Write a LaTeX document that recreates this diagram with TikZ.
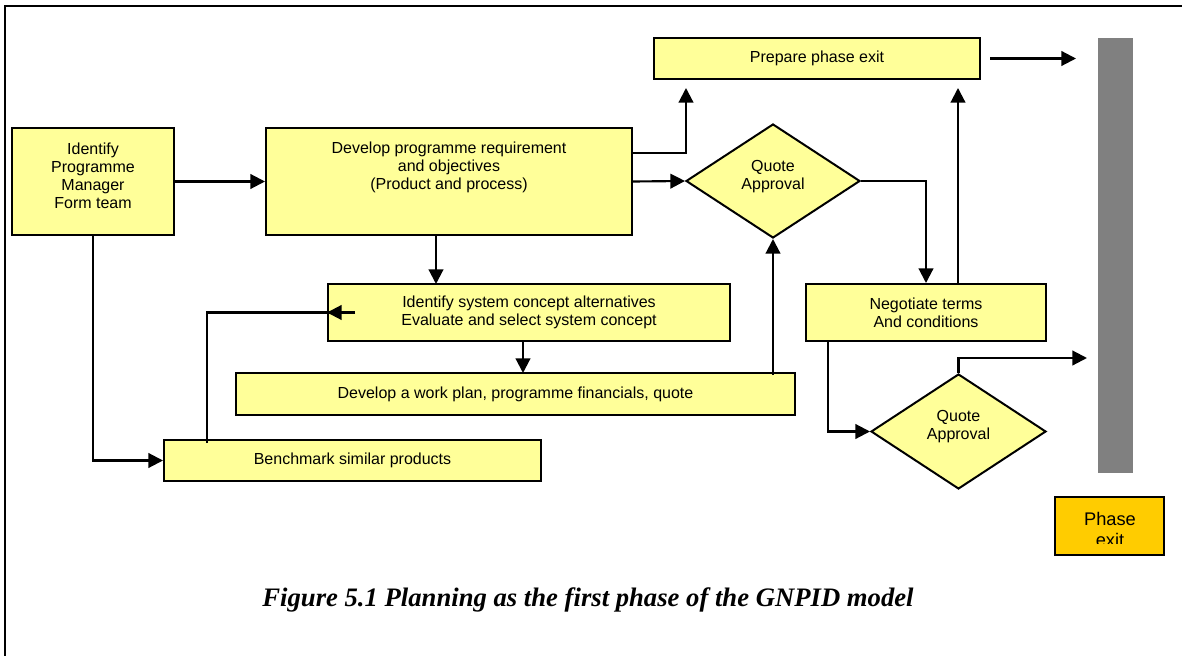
\documentclass[tikz,border=0pt]{standalone}
\usepackage{fontspec}
\setmainfont{Liberation Sans}
\newfontfamily\captionface{Liberation Serif}
\usetikzlibrary{arrows.meta,shapes.geometric}

\definecolor{paleyellow}{HTML}{FFFF99}
\definecolor{phaseorange}{HTML}{FFCC00}
\definecolor{bargray}{HTML}{808080}

\begin{document}
\begin{tikzpicture}[x=0.75pt,y=-0.75pt,
  every node/.style={font=\fontsize{12}{13.5}\selectfont},
  stage/.style={draw=black, line width=1.5pt, fill=paleyellow, inner sep=0pt, align=center},
  decision/.style={diamond, draw=black, line width=1.5pt, fill=paleyellow, inner sep=0pt},
  caption text/.style={align=center, inner sep=0pt},
  flow/.style={line width=1.6pt, -{Triangle[length=11pt,width=11pt]}},
  link/.style={line width=1.6pt}
]
\useasboundingbox (0,0) rectangle (1182,656);

% page frame
\draw[line width=1.5pt] (5,700) -- (5,6) -- (1220,6);

% process boxes
\node[stage, minimum width=121.5pt, minimum height=80.25pt] (idpm) at (93,181.5) {};
\node[caption text] (idpm-t) at (93,176) {Identify\\Programme\\Manager\\Form team};

\node[stage, minimum width=274.5pt, minimum height=80.25pt] (dev) at (449,181.5) {};
\node[caption text] (dev-t) at (449,167) {Develop programme requirement\\and objectives\\(Product and process)};

\node[stage, minimum width=244.5pt, minimum height=30.75pt] (prep) at (817,58.5) {Prepare phase exit};

\node[decision, minimum width=130.5pt, minimum height=85.5pt] (q1) at (773,181) {};
\node[caption text] (q1-t) at (773,176.5) {Quote\\Approval};

\node[stage, minimum width=301.5pt, minimum height=42.75pt] (isys) at (529,312.5)
  {Identify system concept alternatives\\Evaluate and select system concept};

\node[stage, minimum width=180pt, minimum height=42.75pt] (neg) at (926,312.5)
  {Negotiate terms\\And conditions};

\node[stage, minimum width=419.25pt, minimum height=31.5pt] (wp) at (515.5,394)
  {Develop a work plan, programme financials, quote};

\node[stage, minimum width=282.75pt, minimum height=30.75pt] (bench) at (352.5,460.5)
  {Benchmark similar products};

\node[decision, minimum width=131.25pt, minimum height=86.25pt] (q2) at (958.5,431.5) {};
\node[caption text] (q2-t) at (958.5,427) {Quote\\Approval};

% phase gate bar and legend box
\node[fill=bargray, inner sep=0pt, minimum width=26.25pt, minimum height=326.25pt] (bar) at (1115.5,255.5) {};
\node[draw=black, line width=1.5pt, fill=phaseorange, inner sep=0pt,
      minimum width=81.75pt, minimum height=43.5pt] (phase) at (1109.5,526) {};
\begin{scope}
  \clip (1056,498) rectangle (1163,543.5);
  \node[anchor=base, inner sep=0pt, font=\fontsize{13.7}{15.75}\selectfont] (phase-t) at (1110,525) {Phase};
  \node[anchor=base, inner sep=0pt, font=\fontsize{13.7}{15.75}\selectfont] (exit-t) at (1110,546) {exit};
\end{scope}

% free connector ends
\coordinate (prepinA) at (686,88);
\coordinate (prepinB) at (958,88);
\coordinate (exitA) at (1076,58.5);
\coordinate (exitB) at (1087,358);
\coordinate (isysin) at (436,284);
\coordinate (wpin) at (523,373);
\coordinate (benchout) at (207,443);
\coordinate (isysback) at (355,312.5);
\coordinate (negout) at (828,341);

% connectors
\draw[flow] (idpm.east) -- (dev.west);
\draw[flow] (dev.east) -- (q1.west);
\draw[flow] (dev.east |- 0,153) -| (prepinA);
\draw[flow] (q1.east) -| (neg.north);
\draw[flow] (neg.north -| prepinB) -- (prepinB);
\draw[flow] ([xshift=6.75pt]prep.east) -- (exitA);
\draw[flow] (dev.south -| isysin) -- (isysin);
\draw[flow] (isys.south -| wpin) -- (wpin);
\draw[flow] (q1.south |- 0,375) -- (q1.south);
\draw[flow] (idpm.south) |- (bench.west);
\draw[link] (benchout) |- (isysback);
\draw[flow] (isysback) -- (isys.west);
\draw[flow] (negout) |- (q2.west);
\draw[flow] (q2.north) |- (exitB);

% figure caption
\node[anchor=base, inner sep=0pt, font=\captionface\bfseries\itshape\fontsize{20}{24}\selectfont] (cap) at (588,606)
  {Figure 5.1 Planning as the first phase of the GNPID model};
\end{tikzpicture}
\end{document}
